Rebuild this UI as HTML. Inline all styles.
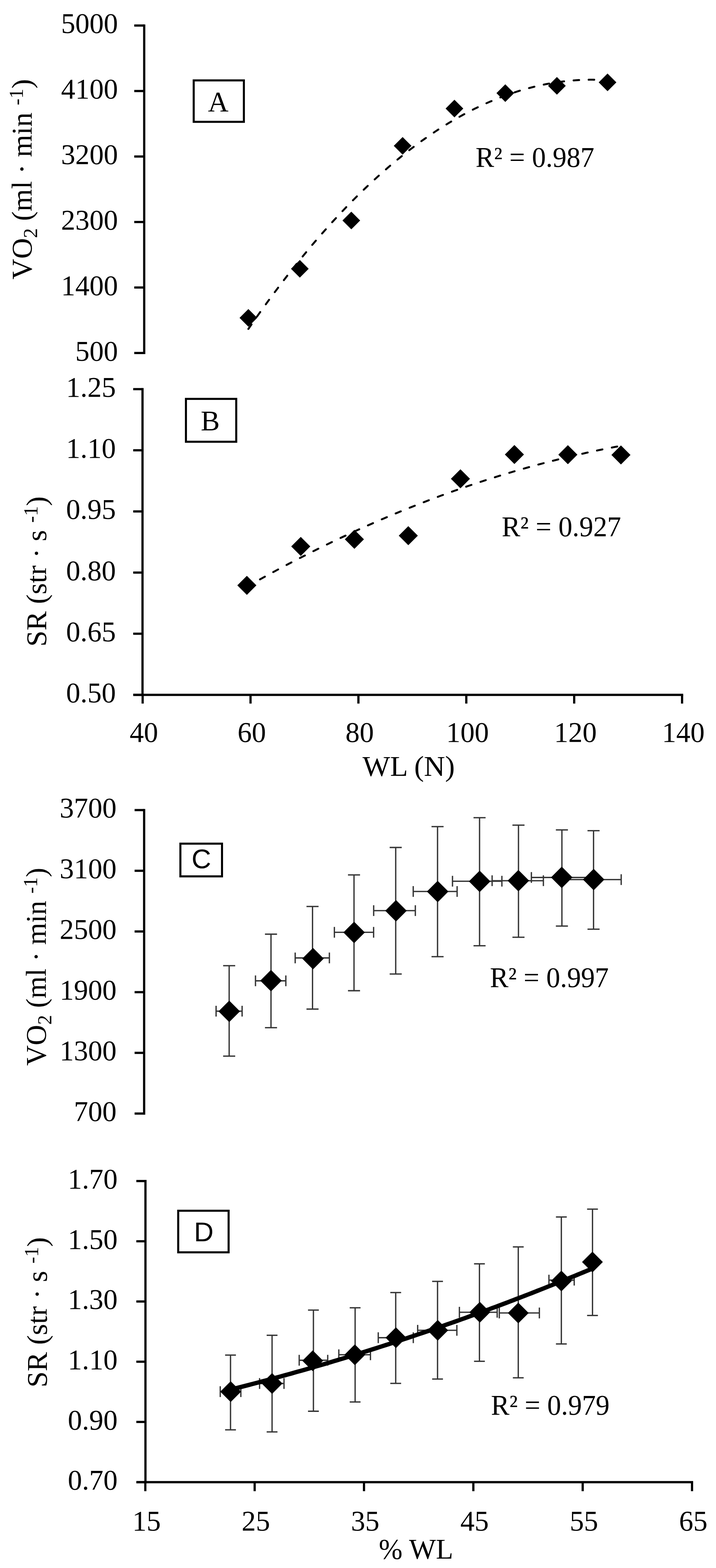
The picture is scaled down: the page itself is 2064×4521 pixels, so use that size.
<!DOCTYPE html>
<html><head><meta charset="utf-8"><title>Figure</title>
<style>html,body{margin:0;padding:0;background:#fff;}svg{display:block;}</style></head>
<body><svg width="2064" height="4521" viewBox="0 0 2064 4521" font-family="'Liberation Serif', serif" fill="#000">
<rect width="2064" height="4521" fill="#fff"/>
<line x1="415.7" y1="70.39999999999999" x2="415.7" y2="1021.0000000000001" stroke="#000" stroke-width="6.4"/>
<line x1="387" y1="73.6" x2="415.7" y2="73.6" stroke="#000" stroke-width="6.4"/>
<text x="340" y="95.3" text-anchor="end" font-size="82">5000</text>
<line x1="387" y1="262.44" x2="415.7" y2="262.44" stroke="#000" stroke-width="6.4"/>
<text x="340" y="284.1" text-anchor="end" font-size="82">4100</text>
<line x1="387" y1="451.28" x2="415.7" y2="451.28" stroke="#000" stroke-width="6.4"/>
<text x="340" y="473.0" text-anchor="end" font-size="82">3200</text>
<line x1="387" y1="640.12" x2="415.7" y2="640.12" stroke="#000" stroke-width="6.4"/>
<text x="340" y="661.8" text-anchor="end" font-size="82">2300</text>
<line x1="387" y1="828.96" x2="415.7" y2="828.96" stroke="#000" stroke-width="6.4"/>
<text x="340" y="850.7" text-anchor="end" font-size="82">1400</text>
<line x1="387" y1="1017.8000000000001" x2="415.7" y2="1017.8000000000001" stroke="#000" stroke-width="6.4"/>
<text x="340" y="1039.5" text-anchor="end" font-size="82">500</text>
<text transform="translate(91,806) rotate(-90)" font-size="82" textLength="578" lengthAdjust="spacingAndGlyphs">VO<tspan font-size="57" dy="16">2</tspan><tspan dy="-16"> (ml · min </tspan><tspan font-size="57" dy="-25">-1</tspan><tspan dy="25">)</tspan></text>
<rect x="558.4" y="231.8" width="144.6" height="119.5" fill="none" stroke="#000" stroke-width="5.9"/>
<text x="629" y="320.6" text-anchor="middle" font-size="82" font-family="'Liberation Serif', serif">A</text>
<path d="M716.0 948.4 L724.7 935.8 L733.4 923.4 L742.1 911.0 L750.8 898.8 L759.5 886.7 L768.2 874.7 L776.9 862.8 L785.6 851.0 L794.3 839.3 L803.0 827.8 L811.7 816.3 L820.4 805.0 L829.1 793.7 L837.8 782.6 L846.5 771.6 L855.2 760.7 L863.9 749.9 L872.6 739.2 L881.3 728.7 L889.9 718.2 L898.6 707.8 L907.3 697.6 L916.0 687.5 L924.7 677.5 L933.4 667.6 L942.1 657.8 L950.8 648.1 L959.5 638.5 L968.2 629.1 L976.9 619.7 L985.6 610.5 L994.3 601.3 L1003.0 592.3 L1011.7 583.4 L1020.4 574.6 L1029.1 565.9 L1037.8 557.4 L1046.5 548.9 L1055.2 540.6 L1063.9 532.3 L1072.6 524.2 L1081.3 516.2 L1090.0 508.3 L1098.7 500.5 L1107.4 492.8 L1116.1 485.2 L1124.8 477.7 L1133.5 470.4 L1142.2 463.1 L1150.9 456.0 L1159.6 449.0 L1168.3 442.0 L1177.0 435.2 L1185.7 428.6 L1194.4 422.0 L1203.1 415.5 L1211.8 409.1 L1220.5 402.9 L1229.2 396.8 L1237.8 390.7 L1246.5 384.8 L1255.2 379.0 L1263.9 373.3 L1272.6 367.7 L1281.3 362.3 L1290.0 356.9 L1298.7 351.7 L1307.4 346.5 L1316.1 341.5 L1324.8 336.6 L1333.5 331.8 L1342.2 327.1 L1350.9 322.5 L1359.6 318.0 L1368.3 313.6 L1377.0 309.4 L1385.7 305.2 L1394.4 301.2 L1403.1 297.3 L1411.8 293.5 L1420.5 289.8 L1429.2 286.2 L1437.9 282.7 L1446.6 279.3 L1455.3 276.1 L1464.0 272.9 L1472.7 269.9 L1481.4 267.0 L1490.1 264.2 L1498.8 261.4 L1507.5 258.9 L1516.2 256.4 L1524.9 254.0 L1533.6 251.7 L1542.3 249.6 L1551.0 247.6 L1559.7 245.6 L1568.4 243.8 L1577.1 242.1 L1585.7 240.5 L1594.4 239.0 L1603.1 237.6 L1611.8 236.4 L1620.5 235.2 L1629.2 234.2 L1637.9 233.3 L1646.6 232.4 L1655.3 231.7 L1664.0 231.1 L1672.7 230.6 L1681.4 230.3 L1690.1 230.0 L1698.8 229.8 L1707.5 229.8 L1716.2 229.9 L1724.9 230.0 L1733.6 230.3 L1742.3 230.7 L1751.0 231.2" fill="none" stroke="#000" stroke-width="5.6" stroke-dasharray="16 27.5" stroke-linecap="round"/>
<path d="M716.0 891.1L741.5 916.6L716.0 942.1L690.5 916.6Z" fill="#000"/>
<path d="M864.3 749.5L889.8 775.0L864.3 800.5L838.8 775.0Z" fill="#000"/>
<path d="M1012.7 610.2L1038.2 635.7L1012.7 661.2L987.2 635.7Z" fill="#000"/>
<path d="M1160.6 395.0L1186.1 420.5L1160.6 446.0L1135.1 420.5Z" fill="#000"/>
<path d="M1310.0 287.5L1335.5 313.0L1310.0 338.5L1284.5 313.0Z" fill="#000"/>
<path d="M1456.6 243.1L1482.1 268.6L1456.6 294.1L1431.1 268.6Z" fill="#000"/>
<path d="M1605.4 222.1L1630.9 247.6L1605.4 273.1L1579.9 247.6Z" fill="#000"/>
<path d="M1751.3 212.0L1776.8 237.5L1751.3 263.0L1725.8 237.5Z" fill="#000"/>
<text x="1371" y="481" font-size="82" textLength="342.3" lengthAdjust="spacingAndGlyphs">R² = 0.987</text>
<line x1="410.8" y1="1118.8" x2="410.8" y2="2006.7" stroke="#000" stroke-width="6.4"/>
<line x1="384" y1="1122.0" x2="410.8" y2="1122.0" stroke="#000" stroke-width="6.4"/>
<text x="334" y="1143.7" text-anchor="end" font-size="82">1.25</text>
<line x1="384" y1="1298.3" x2="410.8" y2="1298.3" stroke="#000" stroke-width="6.4"/>
<text x="334" y="1320.0" text-anchor="end" font-size="82">1.10</text>
<line x1="384" y1="1474.6" x2="410.8" y2="1474.6" stroke="#000" stroke-width="6.4"/>
<text x="334" y="1496.3" text-anchor="end" font-size="82">0.95</text>
<line x1="384" y1="1650.9" x2="410.8" y2="1650.9" stroke="#000" stroke-width="6.4"/>
<text x="334" y="1672.6" text-anchor="end" font-size="82">0.80</text>
<line x1="384" y1="1827.2" x2="410.8" y2="1827.2" stroke="#000" stroke-width="6.4"/>
<text x="334" y="1848.9" text-anchor="end" font-size="82">0.65</text>
<line x1="384" y1="2003.5" x2="410.8" y2="2003.5" stroke="#000" stroke-width="6.4"/>
<text x="334" y="2025.2" text-anchor="end" font-size="82">0.50</text>
<line x1="384" y1="2003.5" x2="1969.4" y2="2003.5" stroke="#000" stroke-width="6.4"/>
<line x1="411.2" y1="2003.5" x2="411.2" y2="2028.6" stroke="#000" stroke-width="6.4"/>
<text x="414.7" y="2138.5" text-anchor="middle" font-size="82">40</text>
<line x1="722.2" y1="2003.5" x2="722.2" y2="2028.6" stroke="#000" stroke-width="6.4"/>
<text x="725.7" y="2138.5" text-anchor="middle" font-size="82">60</text>
<line x1="1033.2" y1="2003.5" x2="1033.2" y2="2028.6" stroke="#000" stroke-width="6.4"/>
<text x="1036.7" y="2138.5" text-anchor="middle" font-size="82">80</text>
<line x1="1344.2" y1="2003.5" x2="1344.2" y2="2028.6" stroke="#000" stroke-width="6.4"/>
<text x="1347.7" y="2138.5" text-anchor="middle" font-size="82">100</text>
<line x1="1655.2" y1="2003.5" x2="1655.2" y2="2028.6" stroke="#000" stroke-width="6.4"/>
<text x="1658.7" y="2138.5" text-anchor="middle" font-size="82">120</text>
<line x1="1966.2" y1="2003.5" x2="1966.2" y2="2028.6" stroke="#000" stroke-width="6.4"/>
<text x="1969.7" y="2138.5" text-anchor="middle" font-size="82">140</text>
<text transform="translate(132.5,1864.5) rotate(-90)" font-size="82" textLength="433.4" lengthAdjust="spacingAndGlyphs">SR (str · s <tspan font-size="57" dy="-25">-1</tspan><tspan dy="25">)</tspan></text>
<rect x="536" y="1150.1" width="145.0" height="123.6" fill="none" stroke="#000" stroke-width="5.9"/>
<text x="606" y="1241" text-anchor="middle" font-size="82" font-family="'Liberation Serif', serif">B</text>
<path d="M711.6 1691.8 L720.7 1686.7 L729.7 1681.5 L738.8 1676.5 L747.8 1671.4 L756.9 1666.4 L765.9 1661.4 L775.0 1656.4 L784.0 1651.5 L793.1 1646.6 L802.1 1641.7 L811.2 1636.9 L820.2 1632.1 L829.3 1627.3 L838.4 1622.5 L847.4 1617.8 L856.5 1613.1 L865.5 1608.4 L874.6 1603.8 L883.6 1599.2 L892.7 1594.6 L901.7 1590.0 L910.8 1585.5 L919.8 1581.0 L928.9 1576.5 L937.9 1572.1 L947.0 1567.7 L956.1 1563.3 L965.1 1559.0 L974.2 1554.6 L983.2 1550.4 L992.3 1546.1 L1001.3 1541.9 L1010.4 1537.7 L1019.4 1533.5 L1028.5 1529.3 L1037.5 1525.2 L1046.6 1521.1 L1055.6 1517.1 L1064.7 1513.1 L1073.8 1509.1 L1082.8 1505.1 L1091.9 1501.2 L1100.9 1497.2 L1110.0 1493.4 L1119.0 1489.5 L1128.1 1485.7 L1137.1 1481.9 L1146.2 1478.1 L1155.2 1474.4 L1164.3 1470.7 L1173.3 1467.0 L1182.4 1463.4 L1191.5 1459.8 L1200.5 1456.2 L1209.6 1452.6 L1218.6 1449.1 L1227.7 1445.6 L1236.7 1442.1 L1245.8 1438.7 L1254.8 1435.2 L1263.9 1431.9 L1272.9 1428.5 L1282.0 1425.2 L1291.0 1421.9 L1300.1 1418.6 L1309.1 1415.4 L1318.2 1412.2 L1327.3 1409.0 L1336.3 1405.9 L1345.4 1402.7 L1354.4 1399.6 L1363.5 1396.6 L1372.5 1393.5 L1381.6 1390.5 L1390.6 1387.6 L1399.7 1384.6 L1408.7 1381.7 L1417.8 1378.8 L1426.8 1376.0 L1435.9 1373.1 L1445.0 1370.3 L1454.0 1367.6 L1463.1 1364.8 L1472.1 1362.1 L1481.2 1359.4 L1490.2 1356.8 L1499.3 1354.2 L1508.3 1351.6 L1517.4 1349.0 L1526.4 1346.5 L1535.5 1344.0 L1544.5 1341.5 L1553.6 1339.0 L1562.7 1336.6 L1571.7 1334.2 L1580.8 1331.9 L1589.8 1329.5 L1598.9 1327.2 L1607.9 1325.0 L1617.0 1322.7 L1626.0 1320.5 L1635.1 1318.3 L1644.1 1316.2 L1653.2 1314.1 L1662.2 1312.0 L1671.3 1309.9 L1680.4 1307.9 L1689.4 1305.8 L1698.5 1303.9 L1707.5 1301.9 L1716.6 1300.0 L1725.6 1298.1 L1734.7 1296.2 L1743.7 1294.4 L1752.8 1292.6 L1761.8 1290.8 L1770.9 1289.1 L1779.9 1287.4 L1789.0 1285.7" fill="none" stroke="#000" stroke-width="5.6" stroke-dasharray="16 27.5" stroke-linecap="round"/>
<path d="M711.6 1660.3L739.1 1687.8L711.6 1715.3L684.1 1687.8Z" fill="#000"/>
<path d="M867.0 1548.0L894.5 1575.5L867.0 1603.0L839.5 1575.5Z" fill="#000"/>
<path d="M1021.6 1527.5L1049.1 1555.0L1021.6 1582.5L994.1 1555.0Z" fill="#000"/>
<path d="M1177.0 1517.0L1204.5 1544.5L1177.0 1572.0L1149.5 1544.5Z" fill="#000"/>
<path d="M1327.3 1353.0L1354.8 1380.5L1327.3 1408.0L1299.8 1380.5Z" fill="#000"/>
<path d="M1482.9 1283.0L1510.4 1310.5L1482.9 1338.0L1455.4 1310.5Z" fill="#000"/>
<path d="M1637.0 1283.5L1664.5 1311.0L1637.0 1338.5L1609.5 1311.0Z" fill="#000"/>
<path d="M1790.0 1284.3L1817.5 1311.8L1790.0 1339.3L1762.5 1311.8Z" fill="#000"/>
<text x="1446.3" y="1545.5" font-size="82" textLength="344.3" lengthAdjust="spacingAndGlyphs">R² = 0.927</text>
<text x="1045" y="2236.5" font-size="82" textLength="266" lengthAdjust="spacingAndGlyphs">WL (N)</text>
<line x1="415.5" y1="2332.5" x2="415.5" y2="3213.8999999999996" stroke="#000" stroke-width="6.4"/>
<line x1="388" y1="2335.7" x2="415.5" y2="2335.7" stroke="#000" stroke-width="6.4"/>
<text x="336" y="2357.4" text-anchor="end" font-size="82">3700</text>
<line x1="388" y1="2510.7" x2="415.5" y2="2510.7" stroke="#000" stroke-width="6.4"/>
<text x="336" y="2532.4" text-anchor="end" font-size="82">3100</text>
<line x1="388" y1="2685.7" x2="415.5" y2="2685.7" stroke="#000" stroke-width="6.4"/>
<text x="336" y="2707.4" text-anchor="end" font-size="82">2500</text>
<line x1="388" y1="2860.7" x2="415.5" y2="2860.7" stroke="#000" stroke-width="6.4"/>
<text x="336" y="2882.4" text-anchor="end" font-size="82">1900</text>
<line x1="388" y1="3035.7" x2="415.5" y2="3035.7" stroke="#000" stroke-width="6.4"/>
<text x="336" y="3057.4" text-anchor="end" font-size="82">1300</text>
<line x1="388" y1="3210.7" x2="415.5" y2="3210.7" stroke="#000" stroke-width="6.4"/>
<text x="336" y="3232.4" text-anchor="end" font-size="82">700</text>
<text transform="translate(132.4,3073) rotate(-90)" font-size="82" textLength="571" lengthAdjust="spacingAndGlyphs">VO<tspan font-size="57" dy="16">2</tspan><tspan dy="-16"> (ml · min </tspan><tspan font-size="57" dy="-25">-1</tspan><tspan dy="25">)</tspan></text>
<rect x="520" y="2432.5" width="120.0" height="94.3" fill="none" stroke="#000" stroke-width="5.9"/>
<text x="580.3" y="2503" text-anchor="middle" font-size="78" font-family="'Liberation Sans', sans-serif">C</text>
<line x1="660.6" y1="2784.4" x2="660.6" y2="3045.2" stroke="#353535" stroke-width="3.8"/>
<line x1="643.2" y1="2784.4" x2="678.0" y2="2784.4" stroke="#353535" stroke-width="3.8"/>
<line x1="643.2" y1="3045.2" x2="678.0" y2="3045.2" stroke="#353535" stroke-width="3.8"/>
<line x1="781.2" y1="2693.5" x2="781.2" y2="2963.1" stroke="#353535" stroke-width="3.8"/>
<line x1="763.8000000000001" y1="2693.5" x2="798.6" y2="2693.5" stroke="#353535" stroke-width="3.8"/>
<line x1="763.8000000000001" y1="2963.1" x2="798.6" y2="2963.1" stroke="#353535" stroke-width="3.8"/>
<line x1="900.9" y1="2613.7" x2="900.9" y2="2909.5" stroke="#353535" stroke-width="3.8"/>
<line x1="883.5" y1="2613.7" x2="918.3" y2="2613.7" stroke="#353535" stroke-width="3.8"/>
<line x1="883.5" y1="2909.5" x2="918.3" y2="2909.5" stroke="#353535" stroke-width="3.8"/>
<line x1="1020.5" y1="2522.6" x2="1020.5" y2="2856.5" stroke="#353535" stroke-width="3.8"/>
<line x1="1003.1" y1="2522.6" x2="1037.9" y2="2522.6" stroke="#353535" stroke-width="3.8"/>
<line x1="1003.1" y1="2856.5" x2="1037.9" y2="2856.5" stroke="#353535" stroke-width="3.8"/>
<line x1="1140.7" y1="2443.5" x2="1140.7" y2="2808.3" stroke="#353535" stroke-width="3.8"/>
<line x1="1123.3" y1="2443.5" x2="1158.1000000000001" y2="2443.5" stroke="#353535" stroke-width="3.8"/>
<line x1="1123.3" y1="2808.3" x2="1158.1000000000001" y2="2808.3" stroke="#353535" stroke-width="3.8"/>
<line x1="1261.3" y1="2383.3" x2="1261.3" y2="2758.3" stroke="#353535" stroke-width="3.8"/>
<line x1="1243.8999999999999" y1="2383.3" x2="1278.7" y2="2383.3" stroke="#353535" stroke-width="3.8"/>
<line x1="1243.8999999999999" y1="2758.3" x2="1278.7" y2="2758.3" stroke="#353535" stroke-width="3.8"/>
<line x1="1382.4" y1="2357.7" x2="1382.4" y2="2726.8" stroke="#353535" stroke-width="3.8"/>
<line x1="1365.0" y1="2357.7" x2="1399.8000000000002" y2="2357.7" stroke="#353535" stroke-width="3.8"/>
<line x1="1365.0" y1="2726.8" x2="1399.8000000000002" y2="2726.8" stroke="#353535" stroke-width="3.8"/>
<line x1="1494.6" y1="2379.2" x2="1494.6" y2="2702.4" stroke="#353535" stroke-width="3.8"/>
<line x1="1477.1999999999998" y1="2379.2" x2="1512.0" y2="2379.2" stroke="#353535" stroke-width="3.8"/>
<line x1="1477.1999999999998" y1="2702.4" x2="1512.0" y2="2702.4" stroke="#353535" stroke-width="3.8"/>
<line x1="1619.8" y1="2392.9" x2="1619.8" y2="2670.2" stroke="#353535" stroke-width="3.8"/>
<line x1="1602.3999999999999" y1="2392.9" x2="1637.2" y2="2392.9" stroke="#353535" stroke-width="3.8"/>
<line x1="1602.3999999999999" y1="2670.2" x2="1637.2" y2="2670.2" stroke="#353535" stroke-width="3.8"/>
<line x1="1711.0" y1="2395.2" x2="1711.0" y2="2679.2" stroke="#353535" stroke-width="3.8"/>
<line x1="1693.6" y1="2395.2" x2="1728.4" y2="2395.2" stroke="#353535" stroke-width="3.8"/>
<line x1="1693.6" y1="2679.2" x2="1728.4" y2="2679.2" stroke="#353535" stroke-width="3.8"/>
<line x1="622.9" y1="2915.5" x2="697.9" y2="2915.5" stroke="#353535" stroke-width="3.8"/>
<line x1="622.9" y1="2900.0" x2="622.9" y2="2931.0" stroke="#353535" stroke-width="3.8"/>
<line x1="697.9" y1="2900.0" x2="697.9" y2="2931.0" stroke="#353535" stroke-width="3.8"/>
<line x1="736.5" y1="2828.0" x2="824" y2="2828.0" stroke="#353535" stroke-width="3.8"/>
<line x1="736.5" y1="2812.5" x2="736.5" y2="2843.5" stroke="#353535" stroke-width="3.8"/>
<line x1="824" y1="2812.5" x2="824" y2="2843.5" stroke="#353535" stroke-width="3.8"/>
<line x1="850.9" y1="2762.0" x2="949.5" y2="2762.0" stroke="#353535" stroke-width="3.8"/>
<line x1="850.9" y1="2746.5" x2="850.9" y2="2777.5" stroke="#353535" stroke-width="3.8"/>
<line x1="949.5" y1="2746.5" x2="949.5" y2="2777.5" stroke="#353535" stroke-width="3.8"/>
<line x1="963.9" y1="2688.1" x2="1077" y2="2688.1" stroke="#353535" stroke-width="3.8"/>
<line x1="963.9" y1="2672.6" x2="963.9" y2="2703.6" stroke="#353535" stroke-width="3.8"/>
<line x1="1077" y1="2672.6" x2="1077" y2="2703.6" stroke="#353535" stroke-width="3.8"/>
<line x1="1077.2" y1="2625.6" x2="1197.3" y2="2625.6" stroke="#353535" stroke-width="3.8"/>
<line x1="1077.2" y1="2610.1" x2="1077.2" y2="2641.1" stroke="#353535" stroke-width="3.8"/>
<line x1="1197.3" y1="2610.1" x2="1197.3" y2="2641.1" stroke="#353535" stroke-width="3.8"/>
<line x1="1191.2" y1="2570.4" x2="1317.7" y2="2570.4" stroke="#353535" stroke-width="3.8"/>
<line x1="1191.2" y1="2554.9" x2="1191.2" y2="2585.9" stroke="#353535" stroke-width="3.8"/>
<line x1="1317.7" y1="2554.9" x2="1317.7" y2="2585.9" stroke="#353535" stroke-width="3.8"/>
<line x1="1304.4" y1="2540.8" x2="1446.8" y2="2540.8" stroke="#353535" stroke-width="3.8"/>
<line x1="1304.4" y1="2525.3" x2="1304.4" y2="2556.3" stroke="#353535" stroke-width="3.8"/>
<line x1="1446.8" y1="2525.3" x2="1446.8" y2="2556.3" stroke="#353535" stroke-width="3.8"/>
<line x1="1418.6" y1="2539.3" x2="1566.4" y2="2539.3" stroke="#353535" stroke-width="3.8"/>
<line x1="1418.6" y1="2523.8" x2="1418.6" y2="2554.8" stroke="#353535" stroke-width="3.8"/>
<line x1="1566.4" y1="2523.8" x2="1566.4" y2="2554.8" stroke="#353535" stroke-width="3.8"/>
<line x1="1531.8" y1="2530.0" x2="1706.8" y2="2530.0" stroke="#353535" stroke-width="3.8"/>
<line x1="1531.8" y1="2514.5" x2="1531.8" y2="2545.5" stroke="#353535" stroke-width="3.8"/>
<line x1="1706.8" y1="2514.5" x2="1706.8" y2="2545.5" stroke="#353535" stroke-width="3.8"/>
<line x1="1625.0" y1="2536.2" x2="1790.7" y2="2536.2" stroke="#353535" stroke-width="3.8"/>
<line x1="1625.0" y1="2520.7" x2="1625.0" y2="2551.7" stroke="#353535" stroke-width="3.8"/>
<line x1="1790.7" y1="2520.7" x2="1790.7" y2="2551.7" stroke="#353535" stroke-width="3.8"/>
<path d="M660.8 2885.0L691.8 2916.0L660.8 2947.0L629.8 2916.0Z" fill="#000"/>
<path d="M781.2 2796.5L812.2 2827.5L781.2 2858.5L750.2 2827.5Z" fill="#000"/>
<path d="M902.3 2733.0L933.3 2764.0L902.3 2795.0L871.3 2764.0Z" fill="#000"/>
<path d="M1020.8 2657.5L1051.8 2688.5L1020.8 2719.5L989.8 2688.5Z" fill="#000"/>
<path d="M1141.5 2595.0L1172.5 2626.0L1141.5 2657.0L1110.5 2626.0Z" fill="#000"/>
<path d="M1261.6 2539.6L1292.6 2570.6L1261.6 2601.6L1230.6 2570.6Z" fill="#000"/>
<path d="M1382.7 2510.2L1413.7 2541.2L1382.7 2572.2L1351.7 2541.2Z" fill="#000"/>
<path d="M1494.3 2508.3L1525.3 2539.3L1494.3 2570.3L1463.3 2539.3Z" fill="#000"/>
<path d="M1619.3 2498.8L1650.3 2529.8L1619.3 2560.8L1588.3 2529.8Z" fill="#000"/>
<path d="M1711.4 2504.9L1742.4 2535.9L1711.4 2566.9L1680.4 2535.9Z" fill="#000"/>
<text x="1412.2" y="2846" font-size="82" textLength="342.7" lengthAdjust="spacingAndGlyphs">R² = 0.997</text>
<line x1="419.3" y1="3402.1000000000004" x2="419.3" y2="4276.7" stroke="#000" stroke-width="6.4"/>
<line x1="393" y1="3405.3" x2="419.3" y2="3405.3" stroke="#000" stroke-width="6.4"/>
<text x="339" y="3427.0" text-anchor="end" font-size="82">1.70</text>
<line x1="393" y1="3578.94" x2="419.3" y2="3578.94" stroke="#000" stroke-width="6.4"/>
<text x="339" y="3600.6" text-anchor="end" font-size="82">1.50</text>
<line x1="393" y1="3752.58" x2="419.3" y2="3752.58" stroke="#000" stroke-width="6.4"/>
<text x="339" y="3774.3" text-anchor="end" font-size="82">1.30</text>
<line x1="393" y1="3926.2200000000003" x2="419.3" y2="3926.2200000000003" stroke="#000" stroke-width="6.4"/>
<text x="339" y="3947.9" text-anchor="end" font-size="82">1.10</text>
<line x1="393" y1="4099.860000000001" x2="419.3" y2="4099.860000000001" stroke="#000" stroke-width="6.4"/>
<text x="339" y="4121.6" text-anchor="end" font-size="82">0.90</text>
<line x1="393" y1="4273.5" x2="419.3" y2="4273.5" stroke="#000" stroke-width="6.4"/>
<text x="339" y="4295.2" text-anchor="end" font-size="82">0.70</text>
<line x1="393" y1="4273.5" x2="1998.1000000000001" y2="4273.5" stroke="#000" stroke-width="6.4"/>
<line x1="418.9" y1="4273.5" x2="418.9" y2="4299.5" stroke="#000" stroke-width="6.4"/>
<text x="422.4" y="4412.5" text-anchor="middle" font-size="82">15</text>
<line x1="734.0999999999999" y1="4273.5" x2="734.0999999999999" y2="4299.5" stroke="#000" stroke-width="6.4"/>
<text x="737.6" y="4412.5" text-anchor="middle" font-size="82">25</text>
<line x1="1049.3" y1="4273.5" x2="1049.3" y2="4299.5" stroke="#000" stroke-width="6.4"/>
<text x="1052.8" y="4412.5" text-anchor="middle" font-size="82">35</text>
<line x1="1364.5" y1="4273.5" x2="1364.5" y2="4299.5" stroke="#000" stroke-width="6.4"/>
<text x="1368.0" y="4412.5" text-anchor="middle" font-size="82">45</text>
<line x1="1679.6999999999998" y1="4273.5" x2="1679.6999999999998" y2="4299.5" stroke="#000" stroke-width="6.4"/>
<text x="1683.2" y="4412.5" text-anchor="middle" font-size="82">55</text>
<line x1="1994.9" y1="4273.5" x2="1994.9" y2="4299.5" stroke="#000" stroke-width="6.4"/>
<text x="1998.4" y="4412.5" text-anchor="middle" font-size="82">65</text>
<text transform="translate(134.5,4000.5) rotate(-90)" font-size="82" textLength="433.4" lengthAdjust="spacingAndGlyphs">SR (str · s <tspan font-size="57" dy="-25">-1</tspan><tspan dy="25">)</tspan></text>
<rect x="513.7" y="3490.9" width="145.3" height="119.9" fill="none" stroke="#000" stroke-width="5.9"/>
<text x="587.5" y="3579" text-anchor="middle" font-size="78" font-family="'Liberation Sans', sans-serif">D</text>
<line x1="664.5" y1="3907.1" x2="664.5" y2="4122.6" stroke="#353535" stroke-width="3.8"/>
<line x1="648.9" y1="3907.1" x2="680.1" y2="3907.1" stroke="#353535" stroke-width="3.8"/>
<line x1="648.9" y1="4122.6" x2="680.1" y2="4122.6" stroke="#353535" stroke-width="3.8"/>
<line x1="784.3" y1="3850" x2="784.3" y2="4128.6" stroke="#353535" stroke-width="3.8"/>
<line x1="768.6999999999999" y1="3850" x2="799.9" y2="3850" stroke="#353535" stroke-width="3.8"/>
<line x1="768.6999999999999" y1="4128.6" x2="799.9" y2="4128.6" stroke="#353535" stroke-width="3.8"/>
<line x1="903.5" y1="3777.4" x2="903.5" y2="4069" stroke="#353535" stroke-width="3.8"/>
<line x1="887.9" y1="3777.4" x2="919.1" y2="3777.4" stroke="#353535" stroke-width="3.8"/>
<line x1="887.9" y1="4069" x2="919.1" y2="4069" stroke="#353535" stroke-width="3.8"/>
<line x1="1023.7" y1="3770.7" x2="1023.7" y2="4042.3" stroke="#353535" stroke-width="3.8"/>
<line x1="1008.1" y1="3770.7" x2="1039.3" y2="3770.7" stroke="#353535" stroke-width="3.8"/>
<line x1="1008.1" y1="4042.3" x2="1039.3" y2="4042.3" stroke="#353535" stroke-width="3.8"/>
<line x1="1140.7" y1="3726.8" x2="1140.7" y2="3988.7" stroke="#353535" stroke-width="3.8"/>
<line x1="1125.1000000000001" y1="3726.8" x2="1156.3" y2="3726.8" stroke="#353535" stroke-width="3.8"/>
<line x1="1125.1000000000001" y1="3988.7" x2="1156.3" y2="3988.7" stroke="#353535" stroke-width="3.8"/>
<line x1="1261.3" y1="3694.6" x2="1261.3" y2="3976.2" stroke="#353535" stroke-width="3.8"/>
<line x1="1245.7" y1="3694.6" x2="1276.8999999999999" y2="3694.6" stroke="#353535" stroke-width="3.8"/>
<line x1="1245.7" y1="3976.2" x2="1276.8999999999999" y2="3976.2" stroke="#353535" stroke-width="3.8"/>
<line x1="1382.1" y1="3644" x2="1382.1" y2="3925" stroke="#353535" stroke-width="3.8"/>
<line x1="1366.5" y1="3644" x2="1397.6999999999998" y2="3644" stroke="#353535" stroke-width="3.8"/>
<line x1="1366.5" y1="3925" x2="1397.6999999999998" y2="3925" stroke="#353535" stroke-width="3.8"/>
<line x1="1494" y1="3595.2" x2="1494" y2="3972.6" stroke="#353535" stroke-width="3.8"/>
<line x1="1478.4" y1="3595.2" x2="1509.6" y2="3595.2" stroke="#353535" stroke-width="3.8"/>
<line x1="1478.4" y1="3972.6" x2="1509.6" y2="3972.6" stroke="#353535" stroke-width="3.8"/>
<line x1="1618.2" y1="3508.9" x2="1618.2" y2="3875" stroke="#353535" stroke-width="3.8"/>
<line x1="1602.6000000000001" y1="3508.9" x2="1633.8" y2="3508.9" stroke="#353535" stroke-width="3.8"/>
<line x1="1602.6000000000001" y1="3875" x2="1633.8" y2="3875" stroke="#353535" stroke-width="3.8"/>
<line x1="1708.0" y1="3486.3" x2="1708.0" y2="3792.9" stroke="#353535" stroke-width="3.8"/>
<line x1="1692.4" y1="3486.3" x2="1723.6" y2="3486.3" stroke="#353535" stroke-width="3.8"/>
<line x1="1692.4" y1="3792.9" x2="1723.6" y2="3792.9" stroke="#353535" stroke-width="3.8"/>
<line x1="634.9" y1="4012.5" x2="694.3" y2="4012.5" stroke="#353535" stroke-width="3.8"/>
<line x1="634.9" y1="3996.9" x2="634.9" y2="4028.1" stroke="#353535" stroke-width="3.8"/>
<line x1="694.3" y1="3996.9" x2="694.3" y2="4028.1" stroke="#353535" stroke-width="3.8"/>
<line x1="748.3" y1="3989" x2="818.7" y2="3989" stroke="#353535" stroke-width="3.8"/>
<line x1="748.3" y1="3973.4" x2="748.3" y2="4004.6" stroke="#353535" stroke-width="3.8"/>
<line x1="818.7" y1="3973.4" x2="818.7" y2="4004.6" stroke="#353535" stroke-width="3.8"/>
<line x1="862.5" y1="3922" x2="944.7" y2="3922" stroke="#353535" stroke-width="3.8"/>
<line x1="862.5" y1="3906.4" x2="862.5" y2="3937.6" stroke="#353535" stroke-width="3.8"/>
<line x1="944.7" y1="3906.4" x2="944.7" y2="3937.6" stroke="#353535" stroke-width="3.8"/>
<line x1="976.7" y1="3906.2" x2="1067.9" y2="3906.2" stroke="#353535" stroke-width="3.8"/>
<line x1="976.7" y1="3890.6" x2="976.7" y2="3921.7999999999997" stroke="#353535" stroke-width="3.8"/>
<line x1="1067.9" y1="3890.6" x2="1067.9" y2="3921.7999999999997" stroke="#353535" stroke-width="3.8"/>
<line x1="1090.4" y1="3857" x2="1191.4" y2="3857" stroke="#353535" stroke-width="3.8"/>
<line x1="1090.4" y1="3841.4" x2="1090.4" y2="3872.6" stroke="#353535" stroke-width="3.8"/>
<line x1="1191.4" y1="3841.4" x2="1191.4" y2="3872.6" stroke="#353535" stroke-width="3.8"/>
<line x1="1204" y1="3835.7" x2="1317" y2="3835.7" stroke="#353535" stroke-width="3.8"/>
<line x1="1204" y1="3820.1" x2="1204" y2="3851.2999999999997" stroke="#353535" stroke-width="3.8"/>
<line x1="1317" y1="3820.1" x2="1317" y2="3851.2999999999997" stroke="#353535" stroke-width="3.8"/>
<line x1="1324.3" y1="3783.6" x2="1433.2" y2="3783.6" stroke="#353535" stroke-width="3.8"/>
<line x1="1324.3" y1="3768.0" x2="1324.3" y2="3799.2" stroke="#353535" stroke-width="3.8"/>
<line x1="1433.2" y1="3768.0" x2="1433.2" y2="3799.2" stroke="#353535" stroke-width="3.8"/>
<line x1="1439.3" y1="3785.7" x2="1554.8" y2="3785.7" stroke="#353535" stroke-width="3.8"/>
<line x1="1439.3" y1="3770.1" x2="1439.3" y2="3801.2999999999997" stroke="#353535" stroke-width="3.8"/>
<line x1="1554.8" y1="3770.1" x2="1554.8" y2="3801.2999999999997" stroke="#353535" stroke-width="3.8"/>
<line x1="1582.4" y1="3691" x2="1655.3" y2="3691" stroke="#353535" stroke-width="3.8"/>
<line x1="1582.4" y1="3675.4" x2="1582.4" y2="3706.6" stroke="#353535" stroke-width="3.8"/>
<line x1="1655.3" y1="3675.4" x2="1655.3" y2="3706.6" stroke="#353535" stroke-width="3.8"/>
<path d="M665.0 4006.5 L673.8 4004.3 L682.5 4002.1 L691.3 3999.9 L700.1 3997.6 L708.8 3995.4 L717.6 3993.1 L726.4 3990.8 L735.1 3988.5 L743.9 3986.2 L752.6 3983.9 L761.4 3981.6 L770.2 3979.2 L778.9 3976.9 L787.7 3974.5 L796.5 3972.1 L805.2 3969.7 L814.0 3967.3 L822.8 3964.9 L831.5 3962.5 L840.3 3960.1 L849.1 3957.6 L857.8 3955.1 L866.6 3952.7 L875.4 3950.2 L884.1 3947.7 L892.9 3945.2 L901.6 3942.6 L910.4 3940.1 L919.2 3937.5 L927.9 3935.0 L936.7 3932.4 L945.5 3929.8 L954.2 3927.2 L963.0 3924.6 L971.8 3922.0 L980.5 3919.3 L989.3 3916.7 L998.1 3914.0 L1006.8 3911.3 L1015.6 3908.7 L1024.4 3906.0 L1033.1 3903.2 L1041.9 3900.5 L1050.6 3897.8 L1059.4 3895.0 L1068.2 3892.3 L1076.9 3889.5 L1085.7 3886.7 L1094.5 3883.9 L1103.2 3881.1 L1112.0 3878.3 L1120.8 3875.5 L1129.5 3872.6 L1138.3 3869.7 L1147.1 3866.9 L1155.8 3864.0 L1164.6 3861.1 L1173.4 3858.2 L1182.1 3855.3 L1190.9 3852.3 L1199.6 3849.4 L1208.4 3846.4 L1217.2 3843.5 L1225.9 3840.5 L1234.7 3837.5 L1243.5 3834.5 L1252.2 3831.4 L1261.0 3828.4 L1269.8 3825.4 L1278.5 3822.3 L1287.3 3819.2 L1296.1 3816.2 L1304.8 3813.1 L1313.6 3810.0 L1322.4 3806.8 L1331.1 3803.7 L1339.9 3800.6 L1348.6 3797.4 L1357.4 3794.2 L1366.2 3791.1 L1374.9 3787.9 L1383.7 3784.7 L1392.5 3781.4 L1401.2 3778.2 L1410.0 3775.0 L1418.8 3771.7 L1427.5 3768.5 L1436.3 3765.2 L1445.1 3761.9 L1453.8 3758.6 L1462.6 3755.3 L1471.4 3751.9 L1480.1 3748.6 L1488.9 3745.2 L1497.6 3741.9 L1506.4 3738.5 L1515.2 3735.1 L1523.9 3731.7 L1532.7 3728.3 L1541.5 3724.9 L1550.2 3721.4 L1559.0 3718.0 L1567.8 3714.5 L1576.5 3711.0 L1585.3 3707.5 L1594.1 3704.0 L1602.8 3700.5 L1611.6 3697.0 L1620.4 3693.5 L1629.1 3689.9 L1637.9 3686.4 L1646.6 3682.8 L1655.4 3679.2 L1664.2 3675.6 L1672.9 3672.0 L1681.7 3668.4 L1690.5 3664.7 L1699.2 3661.1 L1708.0 3657.4" fill="none" stroke="#000" stroke-width="12.5"/>
<path d="M665.0 3982.5L695.0 4012.5L665.0 4042.5L635.0 4012.5Z" fill="#000"/>
<path d="M784.3 3959.0L814.3 3989.0L784.3 4019.0L754.3 3989.0Z" fill="#000"/>
<path d="M901.5 3893.5L931.5 3923.5L901.5 3953.5L871.5 3923.5Z" fill="#000"/>
<path d="M1022.9 3876.2L1052.9 3906.2L1022.9 3936.2L992.9 3906.2Z" fill="#000"/>
<path d="M1141.4 3827.0L1171.4 3857.0L1141.4 3887.0L1111.4 3857.0Z" fill="#000"/>
<path d="M1261.8 3805.7L1291.8 3835.7L1261.8 3865.7L1231.8 3835.7Z" fill="#000"/>
<path d="M1383.2 3753.6L1413.2 3783.6L1383.2 3813.6L1353.2 3783.6Z" fill="#000"/>
<path d="M1494.0 3755.7L1524.0 3785.7L1494.0 3815.7L1464.0 3785.7Z" fill="#000"/>
<path d="M1618.2 3663.5L1648.2 3693.5L1618.2 3723.5L1588.2 3693.5Z" fill="#000"/>
<path d="M1707.8 3608.8L1737.8 3638.8L1707.8 3668.8L1677.8 3638.8Z" fill="#000"/>
<text x="1415.3" y="4079" font-size="82" textLength="342" lengthAdjust="spacingAndGlyphs">R² = 0.979</text>
<text x="1092" y="4494.4" font-size="82" textLength="214.5" lengthAdjust="spacingAndGlyphs">% WL</text>
</svg></body></html>
